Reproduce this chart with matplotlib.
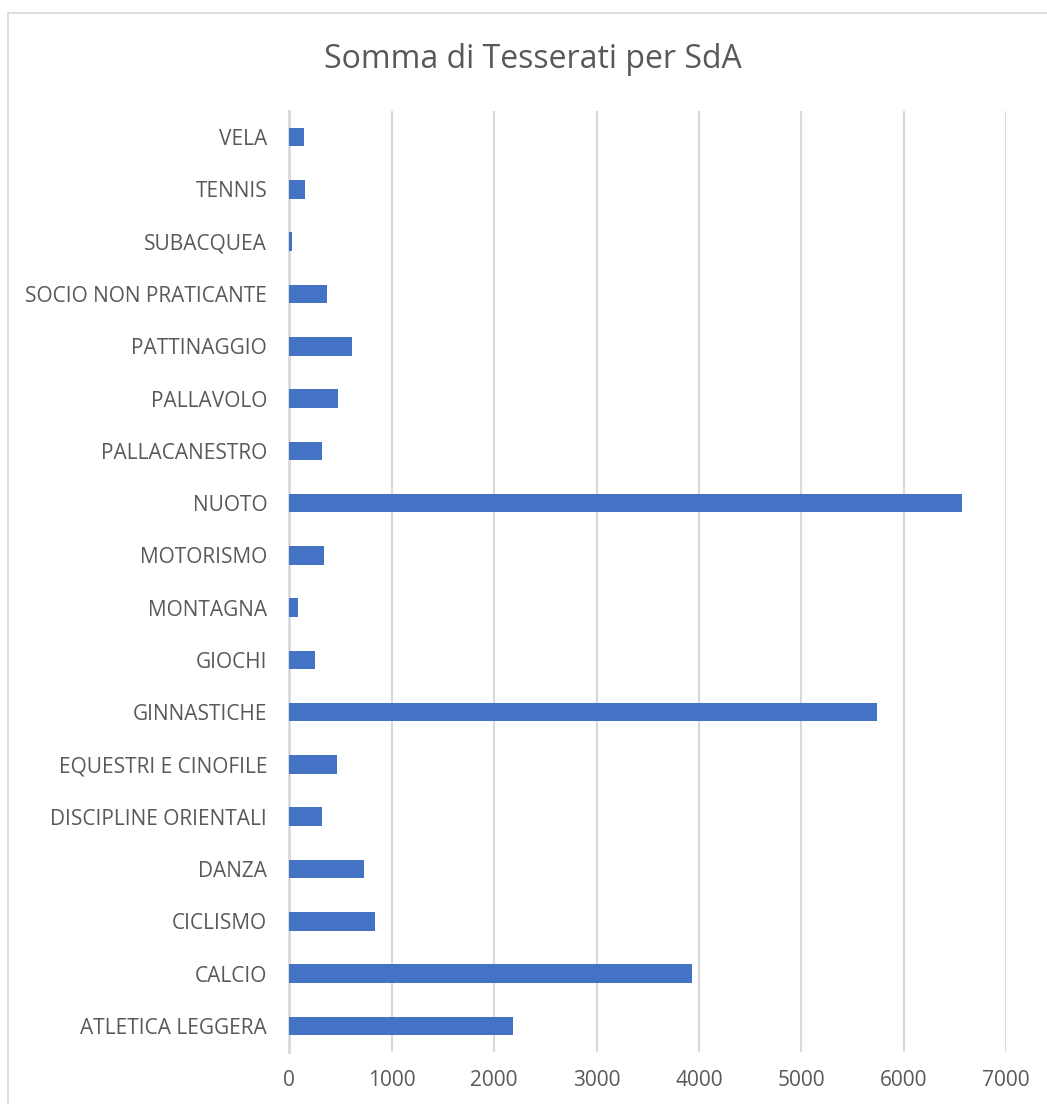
import matplotlib.pyplot as plt
from matplotlib.lines import Line2D

# data, bottom to top as drawn
sports = ["ATLETICA LEGGERA", "CALCIO", "CICLISMO", "DANZA", "DISCIPLINE ORIENTALI",
          "EQUESTRI E CINOFILE", "GINNASTICHE", "GIOCHI", "MONTAGNA", "MOTORISMO",
          "NUOTO", "PALLACANESTRO", "PALLAVOLO", "PATTINAGGIO", "SOCIO NON PRATICANTE",
          "SUBACQUEA", "TENNIS", "VELA"]
tesserati = [2187, 3928, 834, 728, 321,
             468, 5743, 250, 88, 338,
             6569, 321, 477, 613, 367,
             22, 156, 144]
x_ticks = [0, 1000, 2000, 3000, 4000, 5000, 6000, 7000]

plt.rcParams['font.family'] = ['Open Sans', 'DejaVu Sans']
text_col = "#595959"
grid_col = "#D9D9D9"

fig = plt.figure(figsize=(10.47, 11.04), dpi=100)
ax = fig.add_axes([289.4 / 1047, 52 / 1104, (1006 - 289.4) / 1047, (1052 - 111) / 1104])

ax.barh(range(len(sports)), tesserati, height=0.355, color="#4472C4", zorder=3)

ax.set_xlim(0, 7000)
ax.set_ylim(-0.5, len(sports) - 0.5)
ax.set_xticks(x_ticks)
ax.set_xticklabels([str(t) for t in x_ticks])
ax.set_yticks(range(len(sports)))
ax.set_yticklabels(sports)
ax.tick_params(axis="both", length=0, labelsize=15, colors=text_col)
ax.tick_params(axis="y", pad=16)
ax.tick_params(axis="x", pad=13)

ax.grid(axis="x", color=grid_col, linewidth=1.5, zorder=0)
for s in ["top", "right", "bottom"]:
    ax.spines[s].set_visible(False)
ax.spines["left"].set_color(grid_col)
ax.spines["left"].set_linewidth(2)
ax.spines["left"].set_zorder(1)

fig.text(533 / 1047, 1 - 60 / 1104, "Somma di Tesserati per SdA", ha="center", va="center",
         fontsize=23, color=text_col)

# chart area border (cropped at right and bottom)
fig.add_artist(Line2D([8 / 1047, 1.0], [1 - 13 / 1104] * 2, color=grid_col, lw=1.2))
fig.add_artist(Line2D([8 / 1047] * 2, [0, 1 - 13 / 1104], color=grid_col, lw=1.2))

fig.savefig("out.png", dpi=100)
